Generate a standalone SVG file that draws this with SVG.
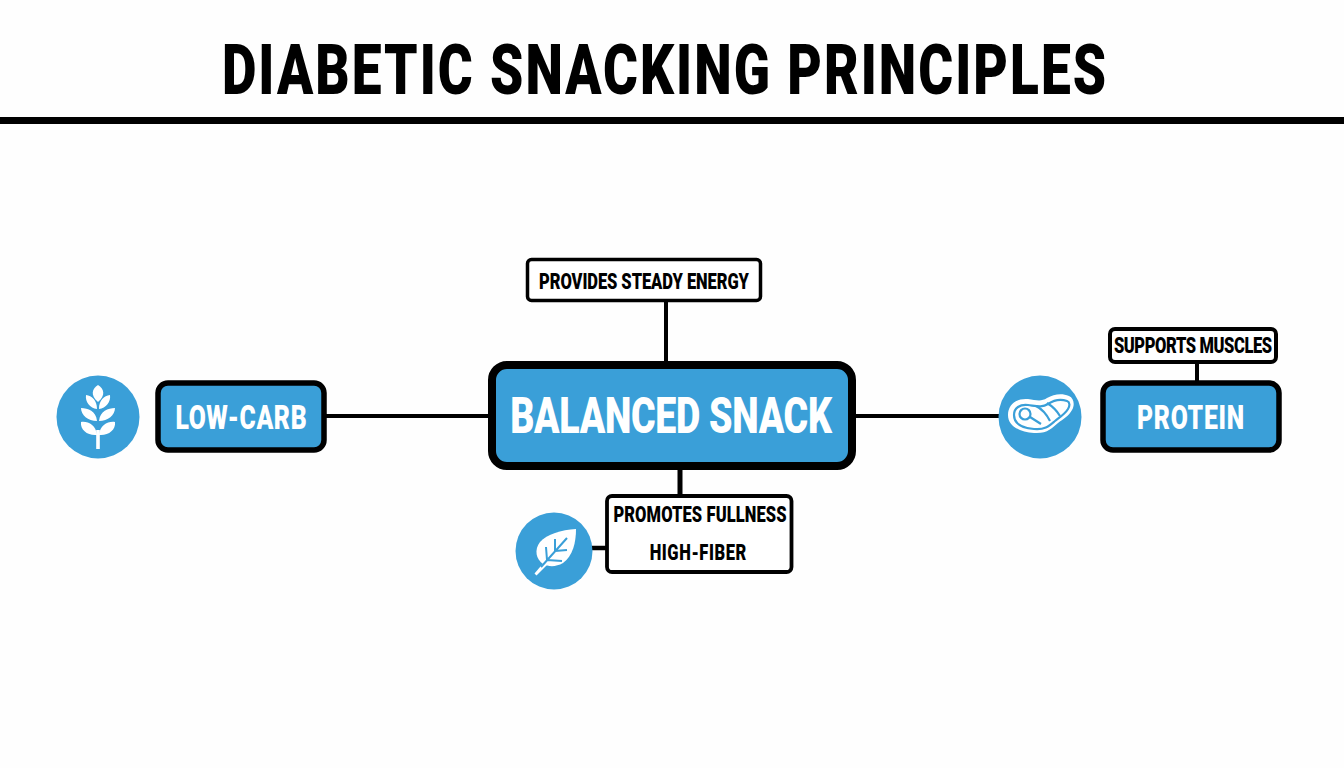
<svg xmlns="http://www.w3.org/2000/svg" width="1344" height="768" viewBox="0 0 1344 768">
<style>
text{font-family:Roboto,"Liberation Sans",sans-serif;font-weight:900;text-anchor:middle}
.line{stroke:#000;fill:none}
.blue{fill:#3a9fd8;stroke:#000}
.note{fill:#fff;stroke:#000}
.disc{fill:#3a9fd8}
.w{fill:#fff}
.k{fill:#000}
.cut{fill:none;stroke:#3a9fd8}
</style>
<rect width="1344" height="768" fill="#fefefe"/>
<g id="title">
<text transform="translate(664 94) scale(.75 1)" font-size="71" class="k" textLength="1179" lengthAdjust="spacing">DIABETIC SNACKING PRINCIPLES</text>
<rect x="0" y="117" width="1344" height="7" fill="#000"/>
</g>
<g id="connectors">
<path class="line" stroke-width="4" d="M326 416H490M855 416H1000"/>
<path class="line" stroke-width="4" d="M666 301V363"/>
<path class="line" stroke-width="5" d="M680 468V496"/>
<path class="line" stroke-width="4.500" d="M591 548H607"/>
<path class="line" stroke-width="4" d="M1197 363V382"/>
</g>
<g id="balanced-snack">
<rect class="blue" x="492" y="365" width="360" height="101" rx="15" stroke-width="8"/>
<text transform="translate(671 433) scale(.75 1)" font-size="50" class="w" textLength="429" lengthAdjust="spacing">BALANCED SNACK</text>
</g>
<g id="steady-energy">
<rect class="note" x="527.500" y="259.500" width="233" height="41" rx="4" stroke-width="3.500"/>
<text transform="translate(644 289) scale(.75 1)" font-size="22" class="k" textLength="280" lengthAdjust="spacing">PROVIDES STEADY ENERGY</text>
</g>
<g id="low-carb">
<circle class="disc" cx="98" cy="417" r="41.500"/>
<g class="w">
<path d="M98 385c6 4 8 10 0 17c-8-7-6-13 0-17Z"/>
<path d="M86 395c6 1 11 5 11 14c-7-1-12-7-11-14ZM110 395c-6 1-11 5-11 14c7-1 12-7 11-14Z"/>
<path d="M81 408c7 0 15 3 16 13c-9 0-16-6-16-13ZM115 408c-7 0-15 3-16 13c9 0 16-6 16-13Z"/>
<path d="M81 422c7-1 15 3 16 13c-9 1-17-5-16-13ZM115 422c-7-1-15 3-16 13c9 1 17-5 16-13Z"/>
<rect x="96.200" y="430" width="3.600" height="19"/>
</g>
<rect class="blue" x="158" y="383" width="166" height="67" rx="10" stroke-width="5.500"/>
<text transform="translate(241 429) scale(.75 1)" font-size="33" class="w" textLength="175" lengthAdjust="spacing">LOW-CARB</text>
</g>
<g id="protein">
<circle class="disc" cx="1040" cy="417" r="41.500"/>
<path class="w" d="M1008 415c0-11 9-17 20-16c8 1 13 3 19-1c7-4 15-5 22-2c5 2 6 9 3 14c-3 6-9 9-14 13c-6 5-11 11-24 10c-13-1-26-6-26-18Z"/>
<path class="cut" stroke-width="2.200" d="M1014 415c0-7 6-11 14-10c8 1 14 3 20-1c6-4 13-5 19-3c3 1 3 5 1 8c-3 5-8 8-13 12c-6 5-10 9-21 8c-11-1-20-5-20-14Z"/>
<circle class="cut" cx="1025" cy="414" r="5.500" stroke-width="2.200"/>
<path class="cut" stroke-width="2.200" d="M1030 417l11 7M1036 406c6 3 11 9 14 15M1047 403c5 3 10 8 13 13"/>
<rect class="blue" x="1103" y="383" width="176" height="67" rx="10" stroke-width="5.500"/>
<text transform="translate(1190.500 429) scale(.75 1)" font-size="33" class="w" textLength="143" lengthAdjust="spacing">PROTEIN</text>
</g>
<g id="supports-muscles">
<rect class="note" x="1110" y="329" width="166" height="33" rx="5" stroke-width="4"/>
<text transform="translate(1193 353) scale(.75 1)" font-size="22" class="k" textLength="211" lengthAdjust="spacing">SUPPORTS MUSCLES</text>
</g>
<g id="high-fiber">
<circle class="disc" cx="554" cy="551" r="38.500"/>
<path class="w" d="M576 529c0 13-3 27-13 34c-7 4-14 4-20 1c-7-5-9-14-3-22c7-8 21-12 36-13Z"/>
<path class="w" d="M534.500 573.500l2 2L549 563l-3-3Z"/>
<path class="cut" stroke-width="2" d="M541 567L567 538M547 560L546 547M547 560L562 561M555 551L555 539M555 551L567 550"/>
<rect class="note" x="607" y="496" width="184.500" height="76" rx="5" stroke-width="3.800"/>
<text transform="translate(700 522) scale(.75 1)" font-size="22" class="k" textLength="231" lengthAdjust="spacing">PROMOTES FULLNESS</text>
<text transform="translate(698 560) scale(.75 1)" font-size="22" class="k" textLength="129" lengthAdjust="spacing">HIGH-FIBER</text>
</g>
</svg>
